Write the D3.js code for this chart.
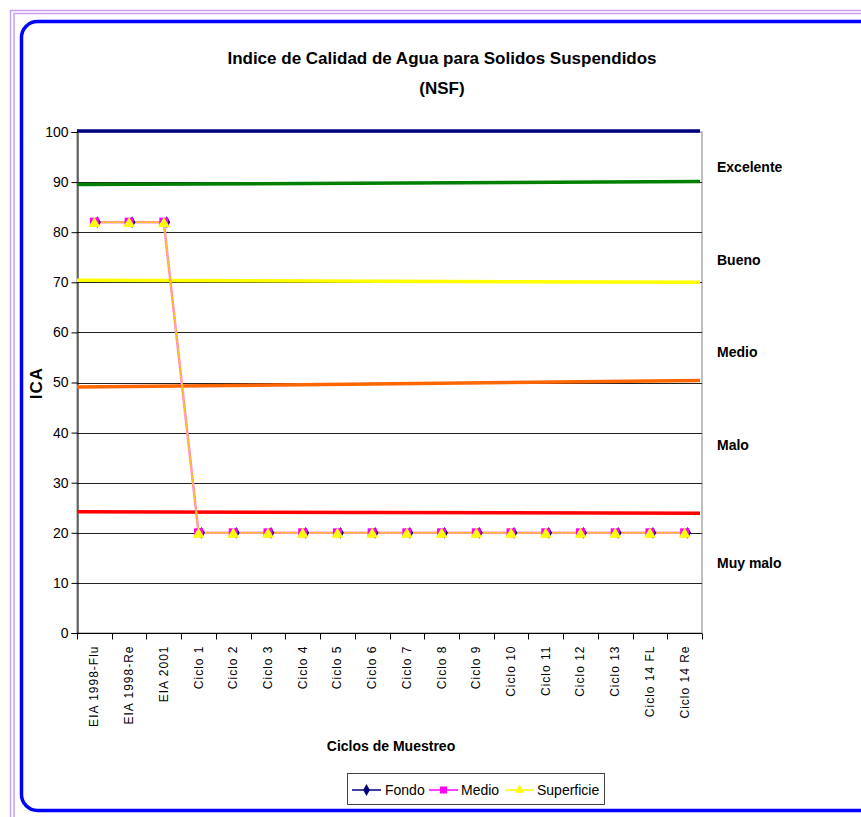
<!DOCTYPE html>
<html>
<head>
<meta charset="utf-8">
<script src="https://cdn.jsdelivr.net/npm/d3@7"></script>
<style>
  body { margin: 0; background: #fff; }
  svg { display: block; font-family: "Liberation Sans", Arial, sans-serif; }
</style>
</head>
<body>
<svg id="chart" width="861" height="817"></svg>
<script>
// ---- data ----
const categories = ["EIA 1998-Flu", "EIA 1998-Re", "EIA 2001", "Ciclo 1", "Ciclo 2", "Ciclo 3", "Ciclo 4", "Ciclo 5", "Ciclo 6", "Ciclo 7", "Ciclo 8", "Ciclo 9", "Ciclo 10", "Ciclo 11", "Ciclo 12", "Ciclo 13", "Ciclo 14 FL", "Ciclo 14 Re"];
const fondo      = [82, 82, 82, 20, 20, 20, 20, 20, 20, 20, 20, 20, 20, 20, 20, 20, 20, 20];
const medio      = [82, 82, 82, 20, 20, 20, 20, 20, 20, 20, 20, 20, 20, 20, 20, 20, 20, 20];
const superficie = [82, 82, 82, 20, 20, 20, 20, 20, 20, 20, 20, 20, 20, 20, 20, 20, 20, 20];
const yTicks = [0, 10, 20, 30, 40, 50, 60, 70, 80, 90, 100];
// quality-band boundary lines: value at left edge, value at right edge
const bandNames  = ["Limite 100", "Limite Excelente", "Limite Bueno", "Limite Medio", "Limite Malo"];
const bandStart  = [100.2, 89.5, 70.4, 49.1, 24.2];
const bandEnd    = [100.2, 90.1, 70.0, 50.4, 23.9];
const bandColors = ["#00007f", "#007f00", "#ffff00", "#ff6600", "#ff0000"];
const zoneLabels = ["Excelente", "Bueno", "Medio", "Malo", "Muy malo"];
const zoneValues = [93, 74.5, 56, 37.5, 14];

const svg = d3.select("#chart");

// ---- frames ----
svg.append("rect").attr("x", 10.5).attr("y", 10.5).attr("width", 900).attr("height", 900)
  .attr("fill", "none").attr("stroke", "#c9a0f5").attr("stroke-width", 1.5);
svg.append("rect").attr("x", 14).attr("y", 13.5).attr("width", 900).attr("height", 900)
  .attr("fill", "none").attr("stroke", "#c9a0f5").attr("stroke-width", 1.5);
svg.append("rect").attr("x", 21.5).attr("y", 21.5).attr("width", 880).attr("height", 789)
  .attr("rx", 16).attr("fill", "#fff").attr("stroke", "#0000ff").attr("stroke-width", 3.5);

// ---- scales ----
const L = 77, R = 702, T = 132, B = 633;
const x = d3.scaleBand().domain(categories).range([L, R]);
const y = d3.scaleLinear().domain([0, 100]).range([B, T]);
const xb = d3.scaleLinear().domain([0, 1]).range([L, R - 2]);

// ---- title ----
svg.append("text").attr("x", 442).attr("y", 64).attr("text-anchor", "middle")
  .attr("font-size", 17).attr("font-weight", "bold").attr("fill", "#000")
  .text("Indice de Calidad de Agua para Solidos Suspendidos");
svg.append("text").attr("x", 442).attr("y", 94).attr("text-anchor", "middle")
  .attr("font-size", 17).attr("font-weight", "bold").attr("fill", "#000")
  .text("(NSF)");

// ---- plot area border ----
svg.append("rect").attr("x", L).attr("y", T).attr("width", R - L).attr("height", B - T)
  .attr("fill", "none").attr("stroke", "#808080").attr("stroke-width", 1);

// grid lines
svg.append("g").selectAll("line").data(yTicks.filter(d => d > 0 && d < 100)).join("line")
  .attr("x1", L).attr("x2", R).attr("y1", d => Math.round(y(d)) + 0.5).attr("y2", d => Math.round(y(d)) + 0.5)
  .attr("stroke", "#222").attr("stroke-width", 1);

// y axis
const yAxis = svg.append("g").attr("transform", `translate(${L + 0.5},0)`)
  .call(d3.axisLeft(y).tickValues(yTicks).tickSize(6).tickPadding(3));
yAxis.select(".domain").attr("stroke", "#000");
yAxis.selectAll(".tick line").attr("stroke", "#000");
yAxis.selectAll(".tick text").attr("font-size", 14).attr("fill", "#000")
  .attr("font-family", "Liberation Sans, Arial, sans-serif");

// x axis
const xAxis = svg.append("g").attr("transform", `translate(0,${B + 0.5})`);
xAxis.append("line").attr("x1", L).attr("x2", R).attr("stroke", "#000");
const bounds = d3.range(categories.length + 1).map(i => L + i * x.step());
xAxis.selectAll("line.tk").data(bounds).join("line").attr("class", "tk")
  .attr("x1", d => Math.round(d) + 0.5).attr("x2", d => Math.round(d) + 0.5)
  .attr("y1", 0).attr("y2", 6).attr("stroke", "#000");
xAxis.selectAll("text").data(categories).join("text")
  .attr("transform", d => `translate(${x(d) + x.bandwidth() / 2 + 4},12) rotate(-90)`)
  .attr("text-anchor", "end").attr("font-size", 12).attr("letter-spacing", 1)
  .attr("fill", "#000").text(d => d);

// axis titles
svg.append("text").attr("transform", "translate(42,383) rotate(-90)").attr("text-anchor", "middle")
  .attr("font-size", 17).attr("font-weight", "bold").attr("letter-spacing", 1).text("ICA");
svg.append("text").attr("x", 391).attr("y", 751).attr("text-anchor", "middle")
  .attr("font-size", 14).attr("font-weight", "bold").text("Ciclos de Muestreo");

// zone labels
svg.append("g").selectAll("text").data(zoneLabels).join("text")
  .attr("x", 717).attr("y", (d, i) => y(zoneValues[i]) + 5)
  .attr("font-size", 14).attr("font-weight", "bold").attr("fill", "#000").text(d => d);

// band boundary lines
svg.append("g").selectAll("line").data(bandNames).join("line")
  .attr("x1", xb(0)).attr("x2", xb(1))
  .attr("y1", (d, i) => y(bandStart[i])).attr("y2", (d, i) => y(bandEnd[i]))
  .attr("stroke", (d, i) => bandColors[i]).attr("stroke-width", 3.5);

// series
const line = d3.line().x((d, i) => x(categories[i]) + x.bandwidth() / 2).y(d => y(d));
svg.append("path").datum(fondo).attr("d", line).attr("fill", "none").attr("stroke", "#00007f").attr("stroke-width", 1);
svg.append("path").datum(medio).attr("d", line).attr("fill", "none").attr("stroke", "#ff88cc").attr("stroke-width", 2.5);
svg.append("path").datum(superficie).attr("d", line).attr("fill", "none").attr("stroke", "#ffcc00").attr("stroke-width", 1.5)
  .attr("stroke-dasharray", "3,1");

const cx = (d, i) => x(categories[i]) + x.bandwidth() / 2;
svg.append("g").selectAll("path").data(fondo).join("path")
  .attr("transform", (d, i) => `translate(${cx(d, i) + 3},${y(d)})`)
  .attr("d", d3.symbol(d3.symbolDiamond, 40)).attr("fill", "#00007f");
svg.append("g").selectAll("rect").data(medio).join("rect")
  .attr("x", (d, i) => cx(d, i) - 4.5).attr("y", d => y(d) - 4.5).attr("width", 9).attr("height", 9)
  .attr("fill", "#ff00ff");
svg.append("g").selectAll("path").data(superficie).join("path")
  .attr("transform", (d, i) => `translate(${cx(d, i)},${y(d) + 1.5})`)
  .attr("d", d3.symbol(d3.symbolTriangle, 60)).attr("fill", "#ffff00");

// legend
const lg = svg.append("g");
lg.append("rect").attr("x", 347.5).attr("y", 773.5).attr("width", 257).attr("height", 31)
  .attr("fill", "#fff").attr("stroke", "#444");
const legendItems = [
  {name: "Fondo", color: "#00007f", x: 352, tx: 385},
  {name: "Medio", color: "#ff00ff", x: 429, tx: 461},
  {name: "Superficie", color: "#ffff00", x: 505, tx: 537}
];
const ly = 790;
legendItems.forEach((it, i) => {
  lg.append("line").attr("x1", it.x).attr("x2", it.x + 29).attr("y1", ly).attr("y2", ly)
    .attr("stroke", it.color).attr("stroke-width", 1.5);
  const mx = it.x + 14.5;
  if (i === 0) lg.append("path").attr("transform", `translate(${mx},${ly})`).attr("d", d3.symbol(d3.symbolDiamond, 40)).attr("fill", it.color);
  if (i === 1) lg.append("rect").attr("x", mx - 3.5).attr("y", ly - 3.5).attr("width", 7).attr("height", 7).attr("fill", it.color);
  if (i === 2) lg.append("path").attr("transform", `translate(${mx},${ly})`).attr("d", d3.symbol(d3.symbolTriangle, 40)).attr("fill", it.color);
  lg.append("text").attr("x", it.tx).attr("y", ly + 5).attr("font-size", 14).attr("fill", "#000").text(it.name);
});
</script>
</body>
</html>
